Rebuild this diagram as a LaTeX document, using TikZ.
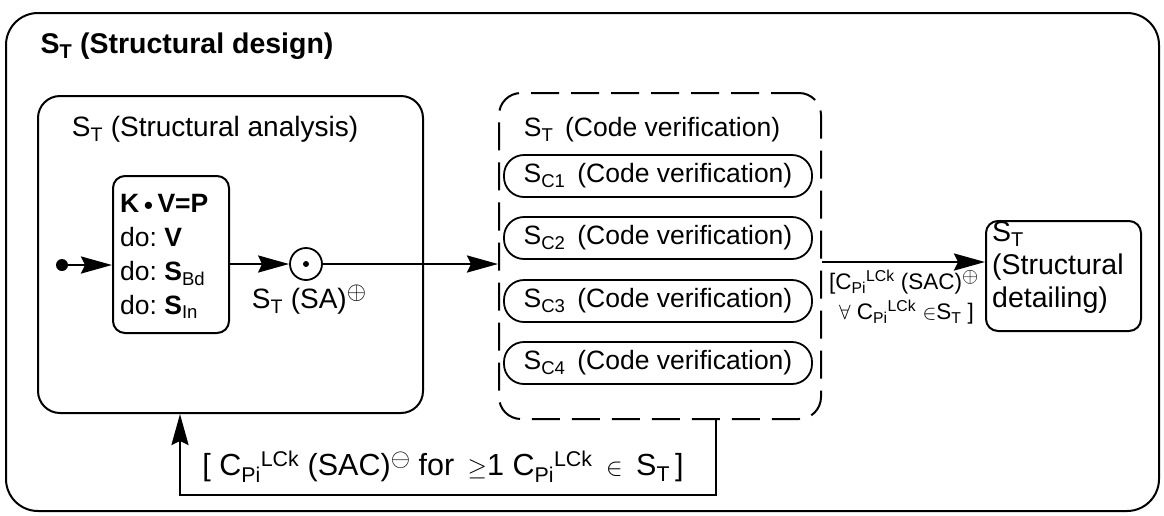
\documentclass[tikz,border=0pt]{standalone}
\usepackage{amsmath, amssymb}
\usepackage{fontspec}
\setmainfont{Liberation Sans}
\usetikzlibrary{arrows.meta}

\newcommand{\upsym}[1]{\raisebox{0.6ex}{$#1$}}

\tikzset{
    box/.style={draw, line width=2pt, rounded corners=22pt, inner sep=0pt},
    pill/.style={draw, line width=1.8pt, rounded corners=20pt, minimum width=308pt, minimum height=42pt, inner sep=0pt},
    arr/.style={line width=2.6pt, -{Stealth[length=31pt, width=17pt, inset=4pt]}},
    small/.style={font=\fontsize{22.5}{30}\selectfont}
}

\begin{document}
\begin{tikzpicture}[x=1pt, y=-1pt, font=\fontsize{26.5}{30}\selectfont]
    \useasboundingbox (0,0) rectangle (1164,515);
    % outer frame
    \node[box, rounded corners=32pt, minimum width=1153pt, minimum height=498pt, anchor=north west] (design) at (5,12) {};
    \node[anchor=west, font=\bfseries\fontsize{28.5}{32}\selectfont] (designtitle) at (37,46) {S\textsubscript{T} (Structural design)};
    % analysis
    \node[box, minimum width=385pt, minimum height=317pt, anchor=north west] (analysis) at (37,95) {};
    \node[font=\fontsize{28}{32}\selectfont] (analysistitle) at (215,129) {S\textsubscript{T} (Structural analysis)};
    \node[box, rounded corners=12pt, minimum width=116pt, minimum height=157pt, anchor=north west] (solve) at (112,175) {};
    \node[anchor=north west, align=left, inner sep=0pt, font=\fontsize{26.5}{34}\selectfont] (solvetext) at (120,194)
        {\textbf{K\,\raisebox{0.15ex}{\scalebox{0.75}{$\bullet$}}\,V=P}\\do:\ \textbf{V}\\do:\ \textbf{S}\textsubscript{Bd}\\do:\ \textbf{S}\textsubscript{In}};
    \node[circle, fill, inner sep=0pt, minimum size=12pt] (start) at (62,265) {};
    \node[circle, draw, line width=1.8pt, inner sep=0pt, minimum size=32pt] (merge) at (306,264) {};
    \node[circle, fill, inner sep=0pt, minimum size=6pt] (mergedot) at (merge) {};
    \node[font=\fontsize{28}{32}\selectfont] (salabel) at (309,300) {S\textsubscript{T} (SA)\upsym{\oplus}};
    \draw[arr] (start) -- (solve.west |- start);
    \draw[arr] (solve.east |- merge) -- (merge);
    % code verification
    \node[box, dash pattern=on 28pt off 12pt, minimum width=322pt, minimum height=326pt, anchor=north west] (verify) at (498,92) {};
    \node (verifytitle) at (652,130) {S\textsubscript{T}\ \,(Code verification)};
    \foreach \i/\y in {1/176, 2/238, 3/301, 4/363}
        \node[pill] (check\i) at (658,\y) {S\textsubscript{C\i}\ \,(Code verification)};
    \draw[arr] (merge) -- (verify.west |- merge);
    % detailing
    \node[box, rounded corners=12pt, minimum width=155pt, minimum height=110pt, anchor=north west] (detail) at (985,220) {};
    \node[anchor=north west, align=left, inner sep=0pt, font=\fontsize{28.5}{33}\selectfont] (detailtext) at (992,221)
        {S\textsubscript{T}\\(Structural\\detailing)};
    \coordinate (passy) at (900,262);
    \draw[arr] (verify.east |- passy) -- (detail.west |- passy);
    \node[anchor=north west, align=left, inner sep=0pt, small] (passlabel) at (829,270)
        {[C\textsubscript{Pi}\textsuperscript{LCk} (SAC)\upsym{\oplus}\\\ \,$\forall$ C\textsubscript{Pi}\textsuperscript{LCk} $\in$S\textsubscript{T} ]};
    % feedback
    \coordinate (fbright) at (716,495);
    \coordinate (fbleft) at (180,495);
    \draw[arr] (verify.south -| fbright) -- (fbright) -- (fbleft) -- (analysis.south -| fbleft);
    \node[font=\fontsize{30.5}{32}\selectfont] (faillabel) at (443,467) {[\ C\textsubscript{Pi}\textsuperscript{LCk} (SAC)\upsym{\ominus}\ for \,$\geq$1 C\textsubscript{Pi}\textsuperscript{LCk} \,$\in$\, S\textsubscript{T}\,]};
\end{tikzpicture}
\end{document}
